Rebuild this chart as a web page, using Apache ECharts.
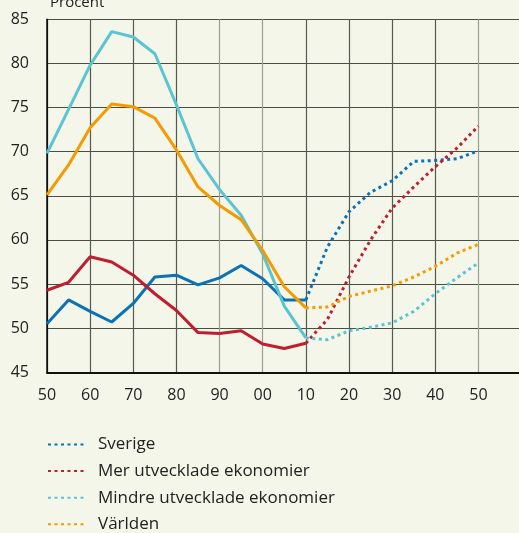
<!DOCTYPE html>
<html lang="sv">
<head>
<meta charset="UTF-8">
<title>Procent</title>
<script src="https://cdn.jsdelivr.net/npm/echarts@6/dist/echarts.min.js"></script>
<style>
  html, body { margin: 0; padding: 0; background: #F3F6E9; }
  #main { width: 519px; height: 533px; }
</style>
</head>
<body>
<div id="main"></div>
<script>
// år, utfall 1950-2010 och prognos 2010-2050
var histYears = [1950, 1955, 1960, 1965, 1970, 1975, 1980, 1985, 1990, 1995, 2000, 2005, 2010];
var projYears = [2010, 2015, 2020, 2025, 2030, 2035, 2040, 2045, 2050];

var names = ['Sverige', 'Mer utvecklade ekonomier', 'Mindre utvecklade ekonomier', 'Världen'];
var colors = ['#0B72B5', '#BE1E2D', '#5BC4D1', '#F59A00'];

var sverigeHist = [50.5, 53.2, 51.9, 50.7, 52.8, 55.8, 56.0, 54.9, 55.7, 57.1, 55.6, 53.2, 53.2];
var sverigeProj = [53.2, 59.2, 63.2, 65.4, 66.7, 68.9, 69.0, 69.2, 70.1];
var merHist = [54.3, 55.2, 58.1, 57.5, 56.0, 53.9, 52.0, 49.5, 49.4, 49.7, 48.2, 47.7, 48.3];
var merProj = [48.3, 51.0, 55.8, 60.0, 63.6, 66.0, 68.3, 70.4, 72.9];
var mindreHist = [69.8, 74.8, 79.8, 83.6, 83.0, 81.1, 75.3, 69.2, 65.7, 62.8, 58.4, 52.5, 48.9];
var mindreProj = [48.9, 48.7, 49.7, 50.1, 50.6, 51.9, 53.9, 55.7, 57.4];
var varldenHist = [65.1, 68.5, 72.7, 75.4, 75.1, 73.8, 70.2, 66.0, 63.9, 62.3, 58.8, 54.7, 52.3];
var varldenProj = [52.3, 52.4, 53.6, 54.2, 54.8, 55.8, 57.0, 58.5, 59.5];

var hist = [sverigeHist, merHist, mindreHist, varldenHist];
var proj = [sverigeProj, merProj, mindreProj, varldenProj];

function pairs(xs, ys) {
    return xs.map(function (x, i) { return [x, ys[i]]; });
}

var series = [];
for (var i = 0; i < names.length; i++) {
    series.push({
        name: names[i] + ' utfall',
        type: 'line',
        data: pairs(histYears, hist[i]),
        showSymbol: false,
        lineStyle: { color: colors[i], width: 3 },
        itemStyle: { color: colors[i] },
        z: 3
    });
}
for (var j = 0; j < names.length; j++) {
    series.push({
        name: names[j],
        type: 'line',
        data: pairs(projYears, proj[j]),
        showSymbol: false,
        lineStyle: { color: colors[j], width: 3, type: [3, 3.5] },
        itemStyle: { color: colors[j] },
        z: 3
    });
}

var myChart = echarts.init(document.getElementById('main'));

var option = {
    backgroundColor: '#F3F6E9',
    animation: false,
    textStyle: { fontFamily: '"Open Sans", Lato, sans-serif' },
    title: {
        text: 'Procent',
        left: 45,
        top: -10,
        textStyle: { fontSize: 15, fontWeight: 'normal', color: '#222', fontFamily: '"Open Sans", sans-serif' }
    },
    grid: {
        left: 47,
        top: 19.3,
        bottom: 160.7,
        width: 474.6,
        outerBoundsMode: 'none',
        containLabel: false
    },
    xAxis: {
        type: 'value',
        min: 1950,
        max: 2060,
        interval: 10,
        axisLine: { show: true, onZero: false, lineStyle: { color: '#111', width: 2 } },
        axisTick: { show: false },
        axisLabel: {
            fontSize: 16,
            color: '#222',
            margin: 15,
            formatter: function (v) {
                if (v > 2050) return '';
                var s = String(v % 100);
                return s.length < 2 ? '0' + s : s;
            }
        },
        splitLine: {
            show: true,
            lineStyle: {
                color: ['#111', '#555a50', '#555a50', '#555a50', '#9a9e90', '#9a9e90',
                        '#555a50', '#555a50', '#555a50', '#555a50', '#9a9e90', '#555a50'],
                width: 1.2
            }
        }
    },
    yAxis: {
        type: 'value',
        min: 45,
        max: 85,
        interval: 5,
        axisLine: { show: true, lineStyle: { color: '#111', width: 1.5 } },
        axisTick: { show: false },
        axisLabel: { fontSize: 16, color: '#222', margin: 18 },
        splitLine: { show: true, lineStyle: { color: '#4a4d44', width: 1 } }
    },
    legend: {
        data: names,
        orient: 'vertical',
        left: 47,
        top: 436,
        height: 120,
        padding: 0,
        itemWidth: 38,
        itemHeight: 14,
        itemGap: 9.6,
        itemStyle: { opacity: 0 },
        textStyle: { fontSize: 17, color: '#222', padding: [0, 0, 0, 7] }
    },
    series: series
};

myChart.setOption(option);
</script>
</body>
</html>
